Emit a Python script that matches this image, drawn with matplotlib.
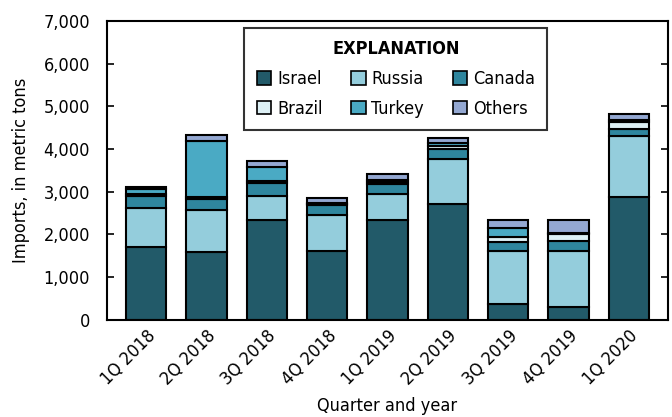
import matplotlib
matplotlib.use("Agg")
import matplotlib.pyplot as plt
import numpy as np
from matplotlib.ticker import FuncFormatter

plt.rcParams['font.family'] = ['DejaVu Sans']
plt.rcParams['font.stretch'] = 'condensed'

quarters = ["1Q 2018", "2Q 2018", "3Q 2018", "4Q 2018", "1Q 2019",
            "2Q 2019", "3Q 2019", "4Q 2019", "1Q 2020"]
israel = [1710, 1592, 2342, 1623, 2335, 2717, 375, 312, 2873]
russia = [905, 984, 546, 828, 615, 1037, 1241, 1304, 1420]
canada = [290, 250, 312, 234, 230, 246, 204, 234, 180]
brazil = [50, 60, 60, 25, 55, 80, 117, 157, 170]
turkey = [110, 1304, 330, 25, 45, 50, 210, 20, 40]
others = [40, 140, 133, 115, 133, 125, 188, 315, 133]

series = [("Israel", israel, "#225a69"),
          ("Russia", russia, "#94cddc"),
          ("Canada", canada, "#2f869e"),
          ("Brazil", brazil, "#ddf0f5"),
          ("Turkey", turkey, "#4aaac4"),
          ("Others", others, "#94a8d2")]

fig = plt.figure(figsize=(6.72, 4.17), dpi=100)
ax = fig.add_axes([0.159, 0.233, 0.835, 0.717])

x = np.arange(len(quarters))
bottom = np.zeros(len(quarters))
handles = {}
for name, vals, col in series:
    b = ax.bar(x, vals, width=0.67, bottom=bottom, color=col,
               edgecolor="black", linewidth=1.5, label=name)
    handles[name] = b
    bottom += np.array(vals)

ax.set_xlim(-0.65, len(quarters) - 0.35)
ax.set_ylim(0, 7000)
ax.set_yticks(range(0, 7001, 1000))
ax.yaxis.set_major_formatter(FuncFormatter(lambda v, p: f"{int(v):,}"))
ax.tick_params(axis="y", direction="in", length=5, width=1.2, right=True,
               labelsize=13, pad=12)
ax.tick_params(axis="x", length=0, labelsize=13, pad=5)
ax.set_xticks(x)
ax.set_xticklabels(quarters, rotation=45, ha="right", rotation_mode="anchor")
for s in ax.spines.values():
    s.set_linewidth(1.5)

ax.set_ylabel("Imports, in metric tons", fontsize=13, labelpad=10)
ax.set_xlabel("Quarter and year", fontsize=13, labelpad=6)

# legend filled column-wise, so reorder to get Israel/Russia/Canada on row 1
order = ["Israel", "Brazil", "Russia", "Turkey", "Canada", "Others"]
leg = ax.legend([handles[n] for n in order], order, ncol=3, loc="upper center",
                bbox_to_anchor=(0.515, 0.977), borderaxespad=0,
                title="EXPLANATION",
                fontsize=13, title_fontproperties={"weight": "bold", "size": 13,
                                                   "stretch": "condensed"},
                frameon=True, fancybox=False, edgecolor="black",
                handlelength=0.8, handleheight=0.8, handletextpad=0.3,
                columnspacing=1.6, borderpad=0.7, labelspacing=0.65)
leg.get_frame().set_linewidth(1.5)
for h in leg.legend_handles:
    h.set_linewidth(1.2)

fig.savefig("out.png", dpi=100)
